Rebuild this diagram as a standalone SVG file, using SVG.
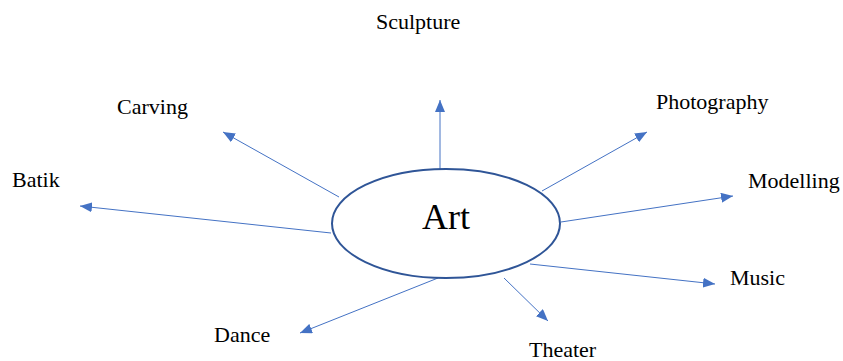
<svg xmlns="http://www.w3.org/2000/svg" width="843" height="361" viewBox="0 0 843 361">
<style>
.lbl{font-family:"Liberation Serif","Times New Roman",serif;font-size:22px;fill:#000}
.con{stroke:#4472C4;stroke-width:1;fill:none;marker-end:url(#ah)}
</style>
<defs>
<marker id="ah" viewBox="0 0 12 10" refX="12" refY="5" markerWidth="12" markerHeight="10" markerUnits="userSpaceOnUse" orient="auto">
<path d="M0,0 L12,5 L0,10 Z" fill="#4472C4"/>
</marker>
</defs>
<rect width="843" height="361" fill="#fff"/>
<g id="connectors">
<line class="con" x1="440" y1="169" x2="440" y2="100"/>
<line class="con" x1="339" y1="197" x2="223" y2="132"/>
<line class="con" x1="331" y1="233" x2="80" y2="206"/>
<line class="con" x1="542" y1="191" x2="647" y2="132"/>
<line class="con" x1="561" y1="222" x2="733" y2="196"/>
<line class="con" x1="530" y1="264" x2="715" y2="284"/>
<line class="con" x1="438" y1="278" x2="300" y2="333"/>
<line class="con" x1="504" y1="278" x2="548" y2="321"/>
</g>
<g id="art">
<ellipse cx="446" cy="223.5" rx="114" ry="54.5" fill="#fff" stroke="#2F5597" stroke-width="2"/>
<text x="446" y="229" text-anchor="middle" font-family="Liberation Serif, Times New Roman, serif" font-size="36">Art</text>
</g>
<g id="sculpture"><text class="lbl" x="376" y="29">Sculpture</text></g>
<g id="carving"><text class="lbl" x="117" y="114">Carving</text></g>
<g id="photography"><text class="lbl" x="656" y="109">Photography</text></g>
<g id="modelling"><text class="lbl" x="748" y="188">Modelling</text></g>
<g id="batik"><text class="lbl" x="12" y="187">Batik</text></g>
<g id="music"><text class="lbl" x="730" y="285">Music</text></g>
<g id="dance"><text class="lbl" x="214" y="342">Dance</text></g>
<g id="theater"><text class="lbl" x="529" y="357">Theater</text></g>
</svg>
